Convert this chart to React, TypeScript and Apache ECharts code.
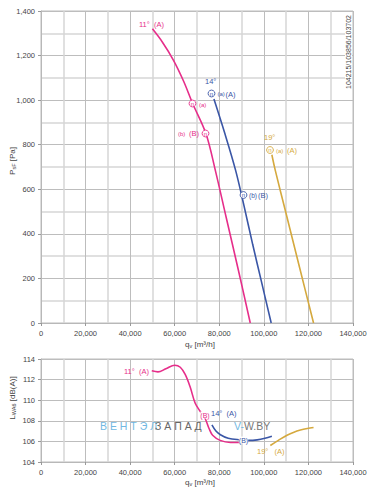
import React, { useEffect, useRef } from 'react';
import * as echarts from 'echarts';

// ---- data ----
const flowTicks = [0, 20000, 40000, 60000, 80000, 100000, 120000, 140000];
const pressureTicks = [0, 200, 400, 600, 800, 1000, 1200, 1400];
const soundTicks = [104, 106, 108, 110, 112, 114];

const pressure11 = [
  [50000, 1320], [54500, 1260], [59400, 1180], [64000, 1085], [68000, 986],
  [74000, 850], [78200, 686], [83000, 478], [88500, 240], [93900, 0],
];
const pressure14 = [
  [77600, 1005], [82500, 850], [87300, 686], [91000, 530], [95000, 352],
  [99000, 182], [103300, 0],
];
const pressure19 = [
  [103600, 755], [105100, 686], [110000, 490], [116000, 250], [122300, 0],
];

const sound11 = [
  [49700, 112.85], [52500, 112.75], [56000, 113.05], [60000, 113.4], [62500, 113.2],
  [64700, 112.5], [66900, 111.3], [69200, 109.7], [71500, 108.9], [73700, 108.2],
  [75500, 107.2], [77000, 106.6], [80400, 106.1], [85000, 105.9], [89400, 105.9],
  [93000, 106.0],
];
const sound14 = [
  [76700, 107.6], [78500, 107.0], [80500, 106.65], [84000, 106.3], [89400, 106.15],
  [93000, 106.1], [97000, 106.15], [100500, 106.3], [103600, 106.5],
];
const sound19 = [
  [102900, 105.6], [106500, 106.1], [110400, 106.6], [113500, 106.9], [116400, 107.1],
  [119500, 107.25], [122300, 107.35],
];

const PINK = '#e62e8a';
const BLUE = '#3a56a6';
const GOLD = '#d5a93e';
const TXT = '#444';
const FONT = '"Liberation Sans", Arial, sans-serif';

const fmt = (v: number) => v.toLocaleString('en-US');

function txt(x: number, y: number, text: string, color: string, size = 7.5, extra: any = {}) {
  const { z, ...rest } = extra;
  return {
    type: 'text',
    x,
    y,
    z: z ?? 100,
    style: {
      text,
      fill: color,
      fontSize: size,
      fontFamily: FONT,
      textAlign: 'left',
      textVerticalAlign: 'middle',
      ...rest,
    },
  };
}

function circN(cx: number, cy: number, color: string) {
  return [
    {
      type: 'circle',
      z: 100,
      shape: { cx, cy, r: 3.4 },
      style: { fill: '#fff', stroke: color, lineWidth: 0.9 },
    },
    {
      type: 'text',
      x: cx,
      y: cy,
      z: 101,
      style: {
        text: 'n',
        fill: color,
        fontSize: 6,
        fontFamily: FONT,
        textAlign: 'center',
        textVerticalAlign: 'middle',
      },
    },
  ];
}

function xAxisCfg(gridIndex: number) {
  return {
    type: 'value',
    gridIndex,
    min: flowTicks[0],
    max: flowTicks[flowTicks.length - 1],
    interval: 20000,
    axisLine: { show: true, lineStyle: { color: '#b8b8b8', width: 1 } },
    axisTick: { show: true, length: 3, lineStyle: { color: '#999' } },
    axisLabel: {
      color: TXT,
      fontSize: 7.5,
      fontFamily: FONT,
      margin: 6,
      formatter: (v: number) => fmt(v),
    },
    splitLine: { show: true, lineStyle: { color: '#bdbdbd', width: 1 } },
    minorTick: { show: false, splitNumber: 2 },
    minorSplitLine: { show: true, lineStyle: { color: '#d6d6d6', width: 1.5 } },
  };
}

const subLabel = (x: number, y: number, main: string, sub: string, rest: string, rot: number, align: string) => ({
  type: 'text',
  x,
  y,
  rotation: rot,
  style: {
    text: `{m|${main}}{s|${sub}}{m|${rest}}`,
    textAlign: align,
    textVerticalAlign: 'middle',
    fill: TXT,
    fontFamily: FONT,
    rich: {
      m: { fontSize: 8, fill: TXT, fontFamily: FONT },
      s: { fontSize: 5.5, fill: TXT, fontFamily: FONT, padding: [4, 0, 0, 0] },
    },
  },
});

const option: any = {
  animation: false,
  backgroundColor: '#fff',
  grid: [
    { left: 41, top: 11, width: 312, height: 312, show: true, borderColor: '#bdbdbd', borderWidth: 1 },
    { left: 41, top: 359, width: 312, height: 103, show: true, borderColor: '#bdbdbd', borderWidth: 1 },
  ],
  xAxis: [xAxisCfg(0), xAxisCfg(1)],
  yAxis: [
    {
      type: 'value',
      gridIndex: 0,
      min: pressureTicks[0],
      max: pressureTicks[pressureTicks.length - 1],
      interval: 200,
      axisLine: { show: true, lineStyle: { color: '#b8b8b8' } },
      axisTick: { show: true, length: 3, lineStyle: { color: '#999' } },
      axisLabel: { color: TXT, fontSize: 7.5, fontFamily: FONT, margin: 6, formatter: (v: number) => fmt(v) },
      splitLine: { show: true, lineStyle: { color: '#bdbdbd', width: 1 } },
      minorTick: { show: false, splitNumber: 2 },
      minorSplitLine: { show: true, lineStyle: { color: '#d6d6d6', width: 1.5 } },
    },
    {
      type: 'value',
      gridIndex: 1,
      min: soundTicks[0],
      max: soundTicks[soundTicks.length - 1],
      interval: 2,
      axisLine: { show: true, lineStyle: { color: '#b8b8b8' } },
      axisTick: { show: true, length: 3, lineStyle: { color: '#999' } },
      axisLabel: { color: TXT, fontSize: 7.5, fontFamily: FONT, margin: 6 },
      splitLine: { show: true, lineStyle: { color: '#bdbdbd', width: 1 } },
    },
  ],
  series: [
    { name: '11° psF', data: pressure11, color: PINK, xAxisIndex: 0, yAxisIndex: 0 },
    { name: '14° psF', data: pressure14, color: BLUE, xAxisIndex: 0, yAxisIndex: 0 },
    { name: '19° psF', data: pressure19, color: GOLD, xAxisIndex: 0, yAxisIndex: 0 },
    { name: '11° LWA', data: sound11, color: PINK, xAxisIndex: 1, yAxisIndex: 1 },
    { name: '14° LWA', data: sound14, color: BLUE, xAxisIndex: 1, yAxisIndex: 1 },
    { name: '19° LWA', data: sound19, color: GOLD, xAxisIndex: 1, yAxisIndex: 1 },
  ].map((s) => ({
    ...s,
    type: 'line',
    smooth: 0.35,
    showSymbol: false,
    lineStyle: { width: 1.6, color: s.color },
    z: 5,
  })),
  graphic: [
    // axis names
    subLabel(12, 161, 'P', 'sF', ' [Pa]', Math.PI / 2, 'center'),
    subLabel(12, 398, 'L', 'WA6', ' [dB(A)]', Math.PI / 2, 'center'),
    subLabel(185, 344, 'q', 'v', ' [m³/h]', 0, 'left'),
    subLabel(185, 482, 'q', 'v', ' [m³/h]', 0, 'left'),
    // drawing number
    {
      type: 'text',
      x: 348.5,
      y: 52,
      rotation: Math.PI / 2,
      z: 100,
      style: {
        text: '104215/103856/103702',
        fill: TXT,
        fontSize: 7,
        fontFamily: FONT,
        textAlign: 'center',
        textVerticalAlign: 'middle',
        backgroundColor: '#fff',
      },
    },
    // pressure chart annotations
    txt(139, 24, '11°  (A)', PINK, 7.5),
    ...circN(192.5, 103.5, PINK),
    txt(199, 104.5, '(a)', PINK, 6),
    txt(178, 133.5, '(b)', PINK, 6),
    txt(189, 133.5, '(B)', PINK, 7.5),
    ...circN(205.5, 133.5, PINK),
    txt(205, 81, '14°', BLUE, 7.5),
    ...circN(211.5, 93.5, BLUE),
    txt(217.5, 94, '(a)', BLUE, 6),
    txt(225.5, 94, '(A)', BLUE, 7.5),
    ...circN(243.5, 195, BLUE),
    txt(249, 195.5, '(b)', BLUE, 6.5),
    txt(258, 195.5, '(B)', BLUE, 7.5),
    txt(264, 137.5, '19°', GOLD, 7.5),
    ...circN(270, 150, GOLD),
    txt(276, 150.5, '(a)', GOLD, 6),
    txt(287, 150.5, '(A)', GOLD, 7.5),
    // sound chart annotations
    txt(124, 371, '11°  (A)', PINK, 7.5),
    txt(205, 415, '(B)', PINK, 7, { textAlign: 'center', backgroundColor: '#fff' }),
    txt(211, 413, '14°  (A)', BLUE, 7.5),
    txt(243.5, 440, '(B)', BLUE, 7, { textAlign: 'center', backgroundColor: '#fff' }),
    txt(257, 451, '19°   (A)', GOLD, 7.5),
    // watermark
    txt(100, 426, 'В Е Н Т Э Л', '#72b8e2', 10.5, { z: 50 }),
    txt(155, 426, 'З А П А Д', '#666', 10.5, { z: 50 }),
    txt(234, 426, 'V-', '#72b8e2', 10.5),
    txt(244, 426, 'W.BY', '#777', 10.5),
  ],
};

export default function App() {
  const ref = useRef<HTMLDivElement>(null);
  useEffect(() => {
    const chart = echarts.init(ref.current!, null, { renderer: 'svg' });
    chart.setOption(option);
    return () => chart.dispose();
  }, []);
  return (
    <div
      ref={ref}
      style={{ position: 'absolute', left: 0, top: 0, width: 379, height: 489 }}
    />
  );
}
